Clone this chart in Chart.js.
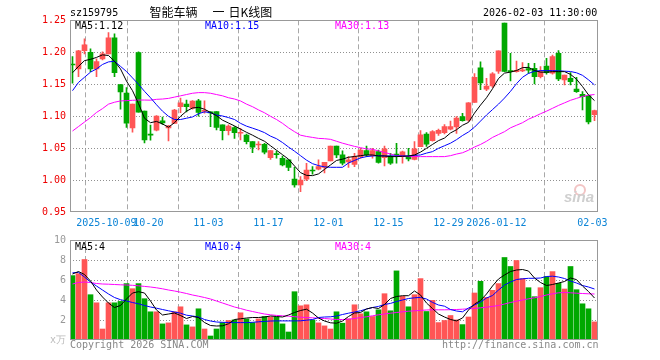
<!DOCTYPE html>
<html><head><meta charset="utf-8">
<script src="https://cdn.jsdelivr.net/npm/chart.js@4"></script>
<style>
html,body{margin:0;padding:0;background:#fff;}
#wrap{position:relative;width:660px;height:360px;overflow:hidden;background:#fff;}
canvas{position:absolute;left:0;top:0;}
.t{position:absolute;font-family:"DejaVu Sans Mono",monospace;font-size:10px;line-height:10px;white-space:pre;}
.c{position:absolute;font-family:"Noto Sans CJK SC",sans-serif;font-size:12px;line-height:12px;white-space:pre;color:#000;}
</style></head><body>
<div id="wrap">
<canvas id="k" width="660" height="360"></canvas>
<canvas id="v" width="660" height="360"></canvas>
<div class="t" style="left:70px;top:8px;color:#000;">sz159795</div>
<div class="c" style="left:149.5px;top:6px;">智能车辆</div>
<div class="c" style="left:212.5px;top:6px;">一</div>
<div class="c" style="left:228.5px;top:6px;">日K线图</div>
<div class="t" style="left:483px;top:7.5px;color:#000;">2026-02-03 11:30:00</div>
<div class="t" style="left:75px;top:21px;color:#000;">MA5:1.12</div>
<div class="t" style="left:205px;top:21px;color:#0000ff;">MA10:1.15</div>
<div class="t" style="left:335px;top:21px;color:#ff00ff;">MA30:1.13</div>
<div class="t" style="left:75px;top:241.5px;color:#000;">MA5:4</div>
<div class="t" style="left:205px;top:241.5px;color:#0000ff;">MA10:4</div>
<div class="t" style="left:335px;top:241.5px;color:#ff00ff;">MA30:4</div>
<div class="t" style="left:70px;top:339.5px;color:#888;">Copyright 2026 SINA.COM</div>
<div class="t" style="left:442px;top:339.5px;color:#888;">http://finance.sina.com.cn</div>
<div style="position:absolute;left:574px;top:184px;width:8px;height:8px;border:2px solid #f2c4c4;border-radius:50%;"></div>
<div style="position:absolute;left:564px;top:189px;font:italic bold 15px 'Liberation Sans',sans-serif;color:#cfcfcf;line-height:15px;">sina</div>
</div>
<script>
// ---- data ----
const tickIndex = [6, 13, 23, 33, 43, 53, 63, 71, 87];
const tickLabels = ["2025-10-09","10-20","11-03","11-17","12-01","12-15","12-29","2026-01-12","02-03"];
const priceTicks = [0.95, 1.00, 1.05, 1.10, 1.15, 1.20, 1.25];
const volTicks = [0, 2, 4, 6, 8, 10];

const open = [1.1810,1.1740,1.2027,1.2001,1.1740,1.1897,1.1975,1.2226,1.1494,1.1364,
 1.0820,1.1995,1.1081,1.0712,1.0783,1.0929,1.0820,1.0889,1.1150,1.1191,
 1.1128,1.1243,1.1078,1.1068,1.1073,1.0865,1.0776,1.0823,1.0735,1.0708,
 1.0604,1.0552,1.0563,1.0354,1.0412,1.0344,1.0318,1.0021,0.9927,1.0016,
 1.0151,1.0172,1.0203,1.0302,1.0534,1.0398,1.0287,1.0250,1.0370,1.0464,
 1.0385,1.0448,1.0354,1.0380,1.0401,1.0370,1.0370,1.0325,1.0526,1.0724,
 1.0620,1.0734,1.0745,1.0800,1.0835,1.0995,1.0940,1.1215,1.1757,1.1422,
 1.1474,1.1705,1.2455,1.1708,1.1698,1.1710,1.1745,1.1750,1.1620,1.1786,
 1.1672,1.1984,1.1568,1.1594,1.1427,1.1344,1.1323,1.1024];
const high = [1.1933,1.2030,1.2210,1.2053,1.1897,1.2006,1.2309,1.2288,1.1494,1.1447,
 1.1191,1.2006,1.1081,1.0862,1.1010,1.0987,1.0860,1.1110,1.1285,1.1254,
 1.1245,1.1265,1.1240,1.1073,1.1073,1.0865,1.0865,1.0839,1.0812,1.0724,
 1.0604,1.0604,1.0578,1.0464,1.0458,1.0380,1.0318,1.0203,1.0057,1.0266,
 1.0214,1.0318,1.0281,1.0534,1.0534,1.0460,1.0372,1.0420,1.0500,1.0536,
 1.0500,1.0474,1.0536,1.0422,1.0578,1.0458,1.0500,1.0604,1.0776,1.0745,
 1.0776,1.0802,1.0870,1.0925,1.0995,1.1047,1.1214,1.1666,1.1850,1.1594,
 1.1682,1.2023,1.2458,1.1984,1.1864,1.1838,1.1828,1.1828,1.1776,1.1906,
 1.1958,1.2026,1.1646,1.1682,1.1610,1.1385,1.1323,1.1099];
const low = [1.1516,1.1620,1.1975,1.1697,1.1620,1.1880,1.1975,1.1620,1.1113,1.0826,
 1.0752,1.1066,1.0585,1.0627,1.0770,1.0875,1.0616,1.0889,1.1055,1.1070,
 1.1110,1.1003,1.1047,1.0838,1.0786,1.0630,1.0708,1.0656,1.0630,1.0568,
 1.0432,1.0474,1.0412,1.0328,1.0344,1.0224,1.0151,0.9891,0.9823,0.9995,
 1.0094,1.0161,1.0115,1.0302,1.0354,1.0242,1.0200,1.0214,1.0344,1.0370,
 1.0344,1.0266,1.0224,1.0250,1.0266,1.0266,1.0302,1.0318,1.0526,1.0531,
 1.0610,1.0703,1.0724,1.0786,1.0734,1.0925,1.0920,1.1215,1.1415,1.1401,
 1.1453,1.1670,1.1698,1.1552,1.1688,1.1698,1.1670,1.1505,1.1600,1.1660,
 1.1660,1.1557,1.1490,1.1490,1.1375,1.1099,1.0880,1.0932];
const close = [1.1802,1.2022,1.2116,1.1739,1.1854,1.1975,1.2226,1.1682,1.1379,1.0893,
 1.1191,1.1066,1.0632,1.0705,1.1003,1.0898,1.0851,1.1097,1.1212,1.1150,
 1.1238,1.1061,1.1085,1.1052,1.0828,1.0776,1.0849,1.0745,1.0740,1.0604,
 1.0516,1.0557,1.0438,1.0464,1.0401,1.0240,1.0203,0.9927,1.0005,1.0161,
 1.0146,1.0214,1.0281,1.0534,1.0398,1.0266,1.0320,1.0370,1.0474,1.0396,
 1.0464,1.0281,1.0490,1.0266,1.0396,1.0443,1.0333,1.0490,1.0711,1.0565,
 1.0763,1.0781,1.0841,1.0841,1.0971,1.0932,1.1210,1.1610,1.1523,1.1474,
 1.1662,1.2023,1.1700,1.1698,1.1720,1.1728,1.1720,1.1620,1.1698,1.1682,
 1.1932,1.1583,1.1646,1.1542,1.1385,1.1307,1.0914,1.1089];
const volume = [6.44,6.64,8.05,4.53,3.72,1.10,3.72,3.72,3.86,5.64,
 5.13,5.64,4.13,2.82,2.82,1.61,1.71,2.82,3.32,1.51,
 1.31,3.12,1.10,0.40,1.10,1.74,1.95,2.01,2.72,2.11,
 1.74,2.11,2.35,2.30,2.30,1.61,0.80,4.83,3.42,3.52,
 2.01,1.71,1.41,1.10,2.82,1.68,2.11,3.52,2.62,2.82,
 2.35,3.02,4.63,2.92,6.91,4.36,3.32,4.53,6.14,2.85,
 3.96,1.74,1.95,2.45,2.01,1.54,2.30,4.70,5.87,4.26,
 4.97,5.64,8.25,7.35,7.95,6.14,5.23,4.33,5.23,6.34,
 6.84,5.67,5.10,7.35,5.03,3.62,3.12,1.81];
const ma5 = [1.168,1.178,1.187,1.189,1.192,1.196,1.195,1.186,1.174,1.155,
 1.140,1.120,1.097,1.090,1.092,1.088,1.083,1.090,1.100,1.108,
 1.113,1.114,1.111,1.106,1.101,1.094,1.0895,1.085,1.080,1.075,
 1.0705,1.0655,1.061,1.054,1.047,1.040,1.033,1.0224,1.012,1.0077,
 1.0073,1.010,1.017,1.024,1.031,1.033,1.036,1.0372,1.0385,1.0396,
 1.0396,1.038,1.038,1.037,1.037,1.0375,1.038,1.0396,1.044,1.050,
 1.056,1.062,1.066,1.074,1.079,1.086,1.0905,1.105,1.1175,1.129,
 1.143,1.159,1.1675,1.169,1.1715,1.176,1.1765,1.1715,1.169,1.169,
 1.1698,1.1698,1.1698,1.1655,1.158,1.1465,1.1335,1.1245];
const ma10 = [1.140,1.153,1.161,1.169,1.174,1.181,1.185,1.186,1.178,1.170,
 1.160,1.150,1.139,1.129,1.118,1.108,1.100,1.095,1.095,1.097,
 1.099,1.104,1.107,1.1055,1.102,1.1005,1.098,1.095,1.089,1.0846,
 1.0815,1.0783,1.0745,1.069,1.065,1.059,1.052,1.0455,1.0385,1.0315,
 1.026,1.023,1.021,1.0203,1.0203,1.0203,1.027,1.031,1.035,1.037,
 1.038,1.0385,1.038,1.038,1.038,1.038,1.038,1.039,1.0396,1.0425,
 1.0448,1.050,1.054,1.058,1.0635,1.070,1.0755,1.083,1.0925,1.102,
 1.1105,1.119,1.1285,1.139,1.151,1.161,1.167,1.1703,1.1714,1.1714,
 1.1714,1.1711,1.1705,1.170,1.168,1.164,1.157,1.149];
const ma30 = [1.077,1.084,1.091,1.098,1.106,1.112,1.119,1.122,1.124,1.1245,
 1.125,1.1254,1.1254,1.1252,1.1265,1.127,1.128,1.130,1.132,1.134,
 1.136,1.137,1.137,1.136,1.134,1.132,1.129,1.127,1.124,1.119,
 1.115,1.110,1.1055,1.100,1.095,1.089,1.082,1.076,1.0705,1.0685,
 1.067,1.0655,1.065,1.064,1.061,1.058,1.0555,1.053,1.051,1.049,
 1.0485,1.046,1.0435,1.041,1.0385,1.038,1.037,1.037,1.037,1.037,
 1.037,1.037,1.037,1.0385,1.041,1.043,1.047,1.052,1.056,1.061,
 1.067,1.0715,1.076,1.082,1.086,1.090,1.0955,1.0995,1.104,1.108,
 1.1125,1.117,1.121,1.125,1.128,1.131,1.133,1.134];
const vma5 = [6.6,6.85,6.55,5.9,5.0,4.3,3.7,3.25,3.45,4.1,
 4.7,4.83,4.7,3.9,3.0,2.5,2.6,2.7,2.45,2.15,
 2.35,2.25,1.75,1.45,1.4,1.42,1.62,2.05,2.12,2.2,
 2.25,2.25,2.3,2.4,2.35,2.3,2.5,2.75,2.95,3.08,
 2.7,2.2,1.9,1.72,1.68,1.9,2.35,2.7,2.75,3.1,
 3.25,3.15,3.55,4.15,4.35,4.43,4.43,4.9,4.5,3.7,
 3.15,2.6,2.3,2.05,1.91,2.2,3.0,3.6,3.95,4.6,
 5.4,6.1,6.5,6.85,7.0,7.05,6.9,6.2,5.75,5.45,
 5.55,5.7,5.85,6.2,6.04,5.4,4.85,4.2];
const vma10 = [6.72,6.76,6.3,5.8,5.4,5.0,4.6,4.25,4.03,3.9,
 3.75,3.62,3.45,3.3,3.18,3.05,2.92,2.8,2.68,2.48,
 2.4,2.3,2.05,1.9,1.8,1.77,1.75,1.74,1.74,1.74,
 1.77,1.82,1.86,1.9,1.91,1.91,1.91,1.91,1.92,1.98,
 2.05,2.25,2.3,2.32,2.4,2.55,2.68,2.8,2.92,3.1,
 3.25,3.36,3.55,3.66,3.85,4.0,4.15,4.22,4.26,4.1,
 3.76,3.5,3.38,3.05,2.9,2.82,3.2,3.5,3.8,4.2,
 4.45,5.0,5.5,5.8,6.05,6.12,6.17,6.17,6.2,6.35,
 6.38,6.3,6.15,5.9,5.7,5.45,5.3,5.1];
const vma30 = [5.6,5.75,5.8,5.75,5.65,5.6,5.58,5.55,5.52,5.5,
 5.47,5.42,5.36,5.3,5.22,5.12,5.0,4.9,4.78,4.65,
 4.5,4.38,4.25,4.1,3.9,3.7,3.5,3.3,3.15,2.98,
 2.85,2.72,2.6,2.52,2.46,2.42,2.38,2.33,2.28,2.25,
 2.22,2.18,2.15,2.1,2.05,2.05,2.08,2.15,2.25,2.32,
 2.42,2.52,2.6,2.68,2.75,2.82,2.88,2.92,2.96,3.0,
 3.02,3.02,3.02,3.03,3.05,3.08,3.12,3.15,3.22,3.28,
 3.36,3.45,3.6,3.75,3.88,4.0,4.12,4.22,4.35,4.5,
 4.62,4.72,4.75,4.72,4.68,4.65,4.62,4.6];

// ---- styling ----
const RED = '#ff5555', GREEN = '#00a800';
const isUp = close.map((c, i) => c >= open[i]);
const barColor = ctx => isUp[ctx.dataIndex] ? RED : GREEN;
const MONO = {family: 'DejaVu Sans Mono', size: 10};
const X_MIN = -0.4167, X_MAX = 87.5833;

const frame = {
  id: 'frame',
  afterDraw(c) {
    const a = c.chartArea, x = c.ctx;
    const l = Math.round(a.left) + 0.5, r = Math.round(a.right) - 0.5;
    const t = Math.floor(a.top) + 0.5, b = Math.floor(a.bottom) - 0.5;
    x.save(); x.strokeStyle = '#999999'; x.lineWidth = 1;
    x.strokeRect(l, t, r - l, b - t); x.restore();
  }
};

function xAxis(showLabels) {
  return {
    type: 'linear', min: X_MIN, max: X_MAX, offset: false,
    afterBuildTicks: s => { s.ticks = tickIndex.map(i => ({value: i - 0.35})); },
    afterFit: s => { s.height = showLabels ? 20 : 0; s.paddingLeft = 0; s.paddingRight = 0; },
    grid: {color: '#a8a8a8', lineWidth: 1, drawTicks: false},
    border: {display: false, dash: [5, 3]},
    ticks: {display: showLabels, autoSkip: false, maxRotation: 0, minRotation: 0, padding: 5,
      color: '#0c84d6', font: MONO, callback: (v, i) => tickLabels[i]}
  };
}
function yAxis(tickVals, min, max, colorFn, labelFn) {
  return {
    type: 'linear', min: min, max: max,
    afterBuildTicks: s => { s.ticks = tickVals.map(v => ({value: v})); },
    afterFit: s => { s.width = 70; s.paddingTop = 0; s.paddingBottom = 0; },
    grid: {color: ctx => (ctx.index === 0 || ctx.index === tickVals.length - 1) ? 'rgba(0,0,0,0)' : '#909090',
      lineWidth: 1, drawTicks: false},
    border: {display: false, dash: [1, 2]},
    ticks: {padding: 4, color: colorFn, font: MONO, callback: labelFn}
  };
}
function line(data, color) {
  return {type: 'line', data: data.map((v, i) => ({x: i, y: v})), borderColor: color, borderWidth: 1,
    pointRadius: 0, tension: 0, fill: false, order: 0};
}

new Chart(document.getElementById('k'), {
  data: {datasets: [
    line(ma5, '#000000'), line(ma10, '#0000ff'), line(ma30, '#ff00ff'),
    {type: 'bar', data: open.map((o, i) => ({x: i, y: [o, close[i]]})), backgroundColor: barColor,
      barThickness: 5, minBarLength: 1, grouped: false, order: 1, borderWidth: 0},
    {type: 'bar', data: low.map((l, i) => ({x: i, y: [l, high[i]]})), backgroundColor: barColor,
      barThickness: 1, minBarLength: 1, grouped: false, order: 2, borderWidth: 0}
  ]},
  options: {
    responsive: false, animation: false, devicePixelRatio: 1,
    layout: {padding: {left: 0, right: 62, top: 20.3, bottom: 127.7}},
    plugins: {legend: {display: false}, tooltip: {enabled: false}},
    scales: {
      x: xAxis(true),
      y: yAxis(priceTicks, 0.95, 1.25, '#ee0000', v => v.toFixed(2))
    }
  },
  plugins: [frame]
});

new Chart(document.getElementById('v'), {
  data: {datasets: [
    line(vma5, '#000000'), line(vma10, '#0000ff'), line(vma30, '#ff00ff'),
    {type: 'bar', data: volume.map((v, i) => ({x: i, y: v})), backgroundColor: barColor,
      barThickness: 5, grouped: false, order: 1, borderWidth: 0}
  ]},
  options: {
    responsive: false, animation: false, devicePixelRatio: 1,
    layout: {padding: {left: 0, right: 62, top: 240, bottom: 20}},
    plugins: {legend: {display: false}, tooltip: {enabled: false}},
    scales: {
      x: xAxis(false),
      y: yAxis(volTicks, 0, 10, ctx => ctx.tick && ctx.tick.value === 0 ? '#bbbbbb' : '#999999',
        v => v === 0 ? 'x万' : String(v))
    }
  },
  plugins: [frame]
});
</script>
</body></html>
